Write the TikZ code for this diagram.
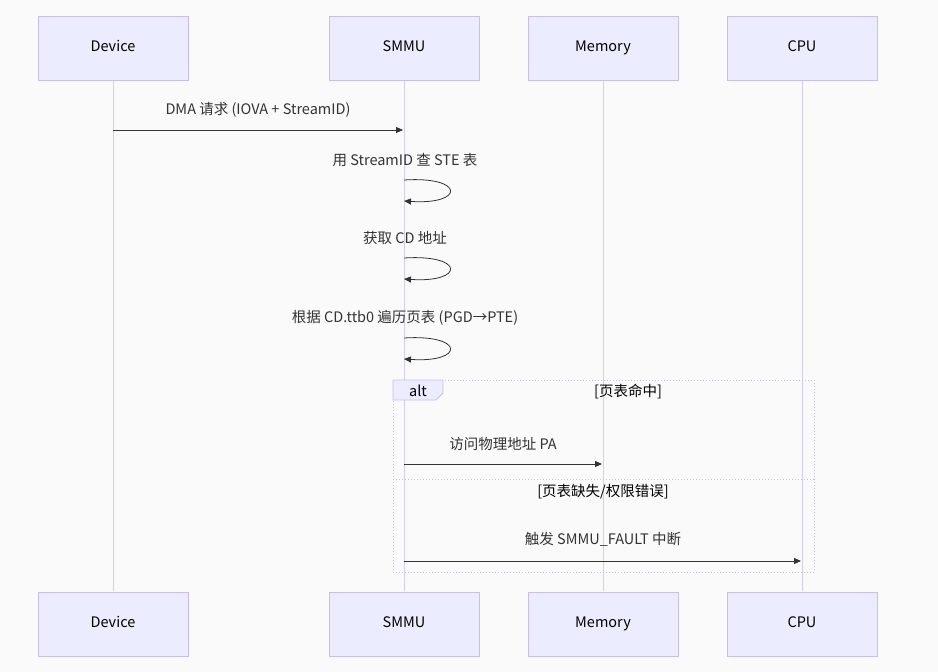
\documentclass[tikz,border=0pt]{standalone}
\usepackage{fontspec}
\setmainfont{Noto Sans CJK SC}
\usetikzlibrary{arrows.meta}
\definecolor{actfill}{HTML}{ECECFF}
\definecolor{actline}{HTML}{C8BFF0}
\definecolor{life}{HTML}{D6CCF5}
\definecolor{ink}{HTML}{333333}
\begin{document}
\begin{tikzpicture}[x=1pt,y=-1pt,
 actor/.style={draw=actline,fill=actfill,minimum width=150pt,minimum height=64pt,inner sep=0pt,text height=9pt,text depth=2pt,font=\fontsize{14.5}{16}\selectfont,text=black},
 msg/.style={draw=ink,line width=0.8pt,-{Triangle[length=7pt,width=6pt]}},
 lbl/.style={font=\fontsize{14.5}{16}\selectfont,text=ink},
 lifeline/.style={draw=life,line width=1pt}]
\fill[fill=white!98!black] (0,0) rectangle (938,672);
\useasboundingbox (0,0) rectangle (938,672);
\foreach \n/\x/\t in {d/113/Device,s/404/SMMU,m/603/Memory,c/802/CPU}{
  \draw[lifeline] (\x,80) -- (\x,591);
  \node[actor] (\n t) at (\x,48) {\t};
  \node[actor] (\n b) at (\x,624) {\t};
}
% alt box
\draw[draw=actline,dotted,line width=1pt] (393,380) rectangle (814,572);
\draw[draw=actline,dotted,line width=1pt] (393,479) -- (814,479);
\draw[draw=actline,fill=actfill,line width=0.8pt] (393,380) -- (443,380) -- (443,393) -- (436,400) -- (393,400) -- cycle;
\node[lbl,text=black] (alt) at (418,391) {alt};
\node[lbl,text=black] (g1) at (628,392) {[页表命中]};
\node[lbl,text=black] (g2) at (603,492) {[页表缺失/权限错误]};
% messages
\coordinate (a1) at (113,130); \coordinate (a2) at (403,130);
\draw[msg] (a1) -- (a2);
\node[lbl] (l1) at (258,110) {DMA 请求 (IOVA + StreamID)};
\foreach \y/\t/\k in {180/用 StreamID 查 STE 表/2,258/获取 CD 地址/3,338/根据 CD.ttb0 遍历页表 (PGD→PTE)/4}{
  \coordinate (p\k) at (404,\y);
  \coordinate (q\k) at (404,\y+21);
  \draw[msg] (p\k) .. controls (465,\y-4) and (465,\y+25) .. (q\k);
  \node[lbl] (l\k) at (405,\y-20) {\t};
}
\coordinate (m1) at (404,464); \coordinate (m2) at (602,464);
\draw[msg] (m1) -- (m2);
\node[lbl] (l5) at (503,444) {访问物理地址 PA};
\coordinate (c1) at (404,561); \coordinate (c2) at (801,561);
\draw[msg] (c1) -- (c2);
\node[lbl] (l6) at (603,539) {触发 SMMU\_FAULT 中断};
\end{tikzpicture}
\end{document}
